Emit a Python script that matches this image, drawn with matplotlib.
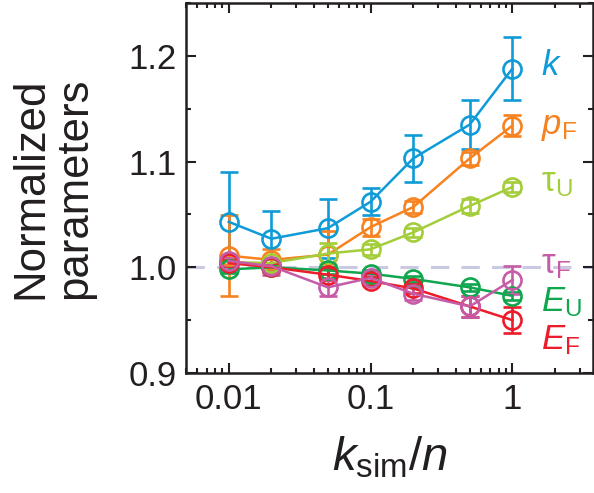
import numpy as np
import matplotlib.pyplot as plt

plt.rcParams['font.family'] = ['Liberation Sans', 'DejaVu Sans']
plt.rcParams['mathtext.fontset'] = 'custom'
plt.rcParams['mathtext.rm'] = 'Liberation Sans'
plt.rcParams['mathtext.it'] = 'Liberation Sans:italic'

x = [0.01, 0.02, 0.05, 0.1, 0.2, 0.5, 1.0]

k_val = [1.043, 1.027, 1.037, 1.062, 1.103, 1.135, 1.188]
k_err = [0.047, 0.026, 0.028, 0.013, 0.022, 0.023, 0.030]
pF_val = [1.011, 1.007, 1.012, 1.038, 1.057, 1.103, 1.134]
pF_err = [0.038, 0.010, 0.022, 0.008, 0.006, 0.006, 0.010]
tU_val = [1.005, 1.004, 1.013, 1.017, 1.033, 1.058, 1.076]
tU_err = [0.004, 0.004, 0.010, 0.005, 0.004, 0.007, 0.005]
EU_val = [0.998, 1.000, 0.997, 0.994, 0.989, 0.981, 0.973]
EU_err = [0.003, 0.003, 0.003, 0.003, 0.003, 0.003, 0.004]
EF_val = [1.004, 1.000, 0.993, 0.987, 0.980, 0.963, 0.950]
EF_err = [0.003, 0.004, 0.005, 0.004, 0.004, 0.010, 0.012]
tF_val = [1.006, 1.001, 0.981, 0.990, 0.975, 0.963, 0.988]
tF_err = [0.004, 0.008, 0.008, 0.004, 0.006, 0.010, 0.013]

series = [
    (k_val, k_err, '#0e9bd8', r'$k$', 1.191),
    (pF_val, pF_err, '#f7821f', r'$p_\mathrm{F}$', 1.133),
    (tU_val, tU_err, '#a3cd39', r'τ$_\mathrm{U}$', 1.080),
    (EU_val, EU_err, '#0fa64e', r'$E_\mathrm{U}$', 0.967),
    (EF_val, EF_err, '#ec1c2a', r'$E_\mathrm{F}$', 0.931),
    (tF_val, tF_err, '#c65ca8', r'τ$_\mathrm{F}$', 1.003),
]

fig = plt.figure(figsize=(5.94, 4.93), dpi=100)
ax = fig.add_axes([186 / 594, 120 / 493, 407 / 594, 370 / 493])

ax.axhline(1.0, color='#c9c9e2', lw=2.2, dashes=(6, 4), zorder=0)

for val, err, col, lab, ly in series:
    ax.errorbar(x, val, yerr=err, color=col, marker='o', ms=13, mfc='none',
                mew=1.9, lw=1.8, capsize=6.5, capthick=1.9, elinewidth=1.9)
    ax.text(1.6, ly, lab, color=col, fontsize=25, ha='left', va='center')

ax.set_xscale('log')
ax.set_xlim(0.005, 3.7)
ax.set_ylim(0.9, 1.25)
ax.set_yticks([0.9, 1.0, 1.1, 1.2])
ax.set_yticklabels(['0.9', '1.0', '1.1', '1.2'])
ax.set_yticks(np.arange(0.95, 1.25, 0.1), minor=True)
ax.set_xticks([0.01, 0.1, 1])
ax.set_xticklabels(['0.01', '0.1', '1'])

ax.tick_params(which='both', direction='in', top=True, right=True,
               labelsize=25, width=1.5, color='#231f20', labelcolor='#231f20')
ax.tick_params(which='major', length=7, pad=7)
ax.tick_params(which='minor', length=3.5)
for s in ax.spines.values():
    s.set_linewidth(1.8)
    s.set_color('#231f20')

ax.set_ylabel('Normalized\nparameters', fontsize=31.5, color='#231f20',
              linespacing=1.08, labelpad=24)
ax.set_xlabel(r'$k_\mathrm{sim}/n$', fontsize=34, color='#231f20', labelpad=14)

fig.savefig('out.png', dpi=100)
